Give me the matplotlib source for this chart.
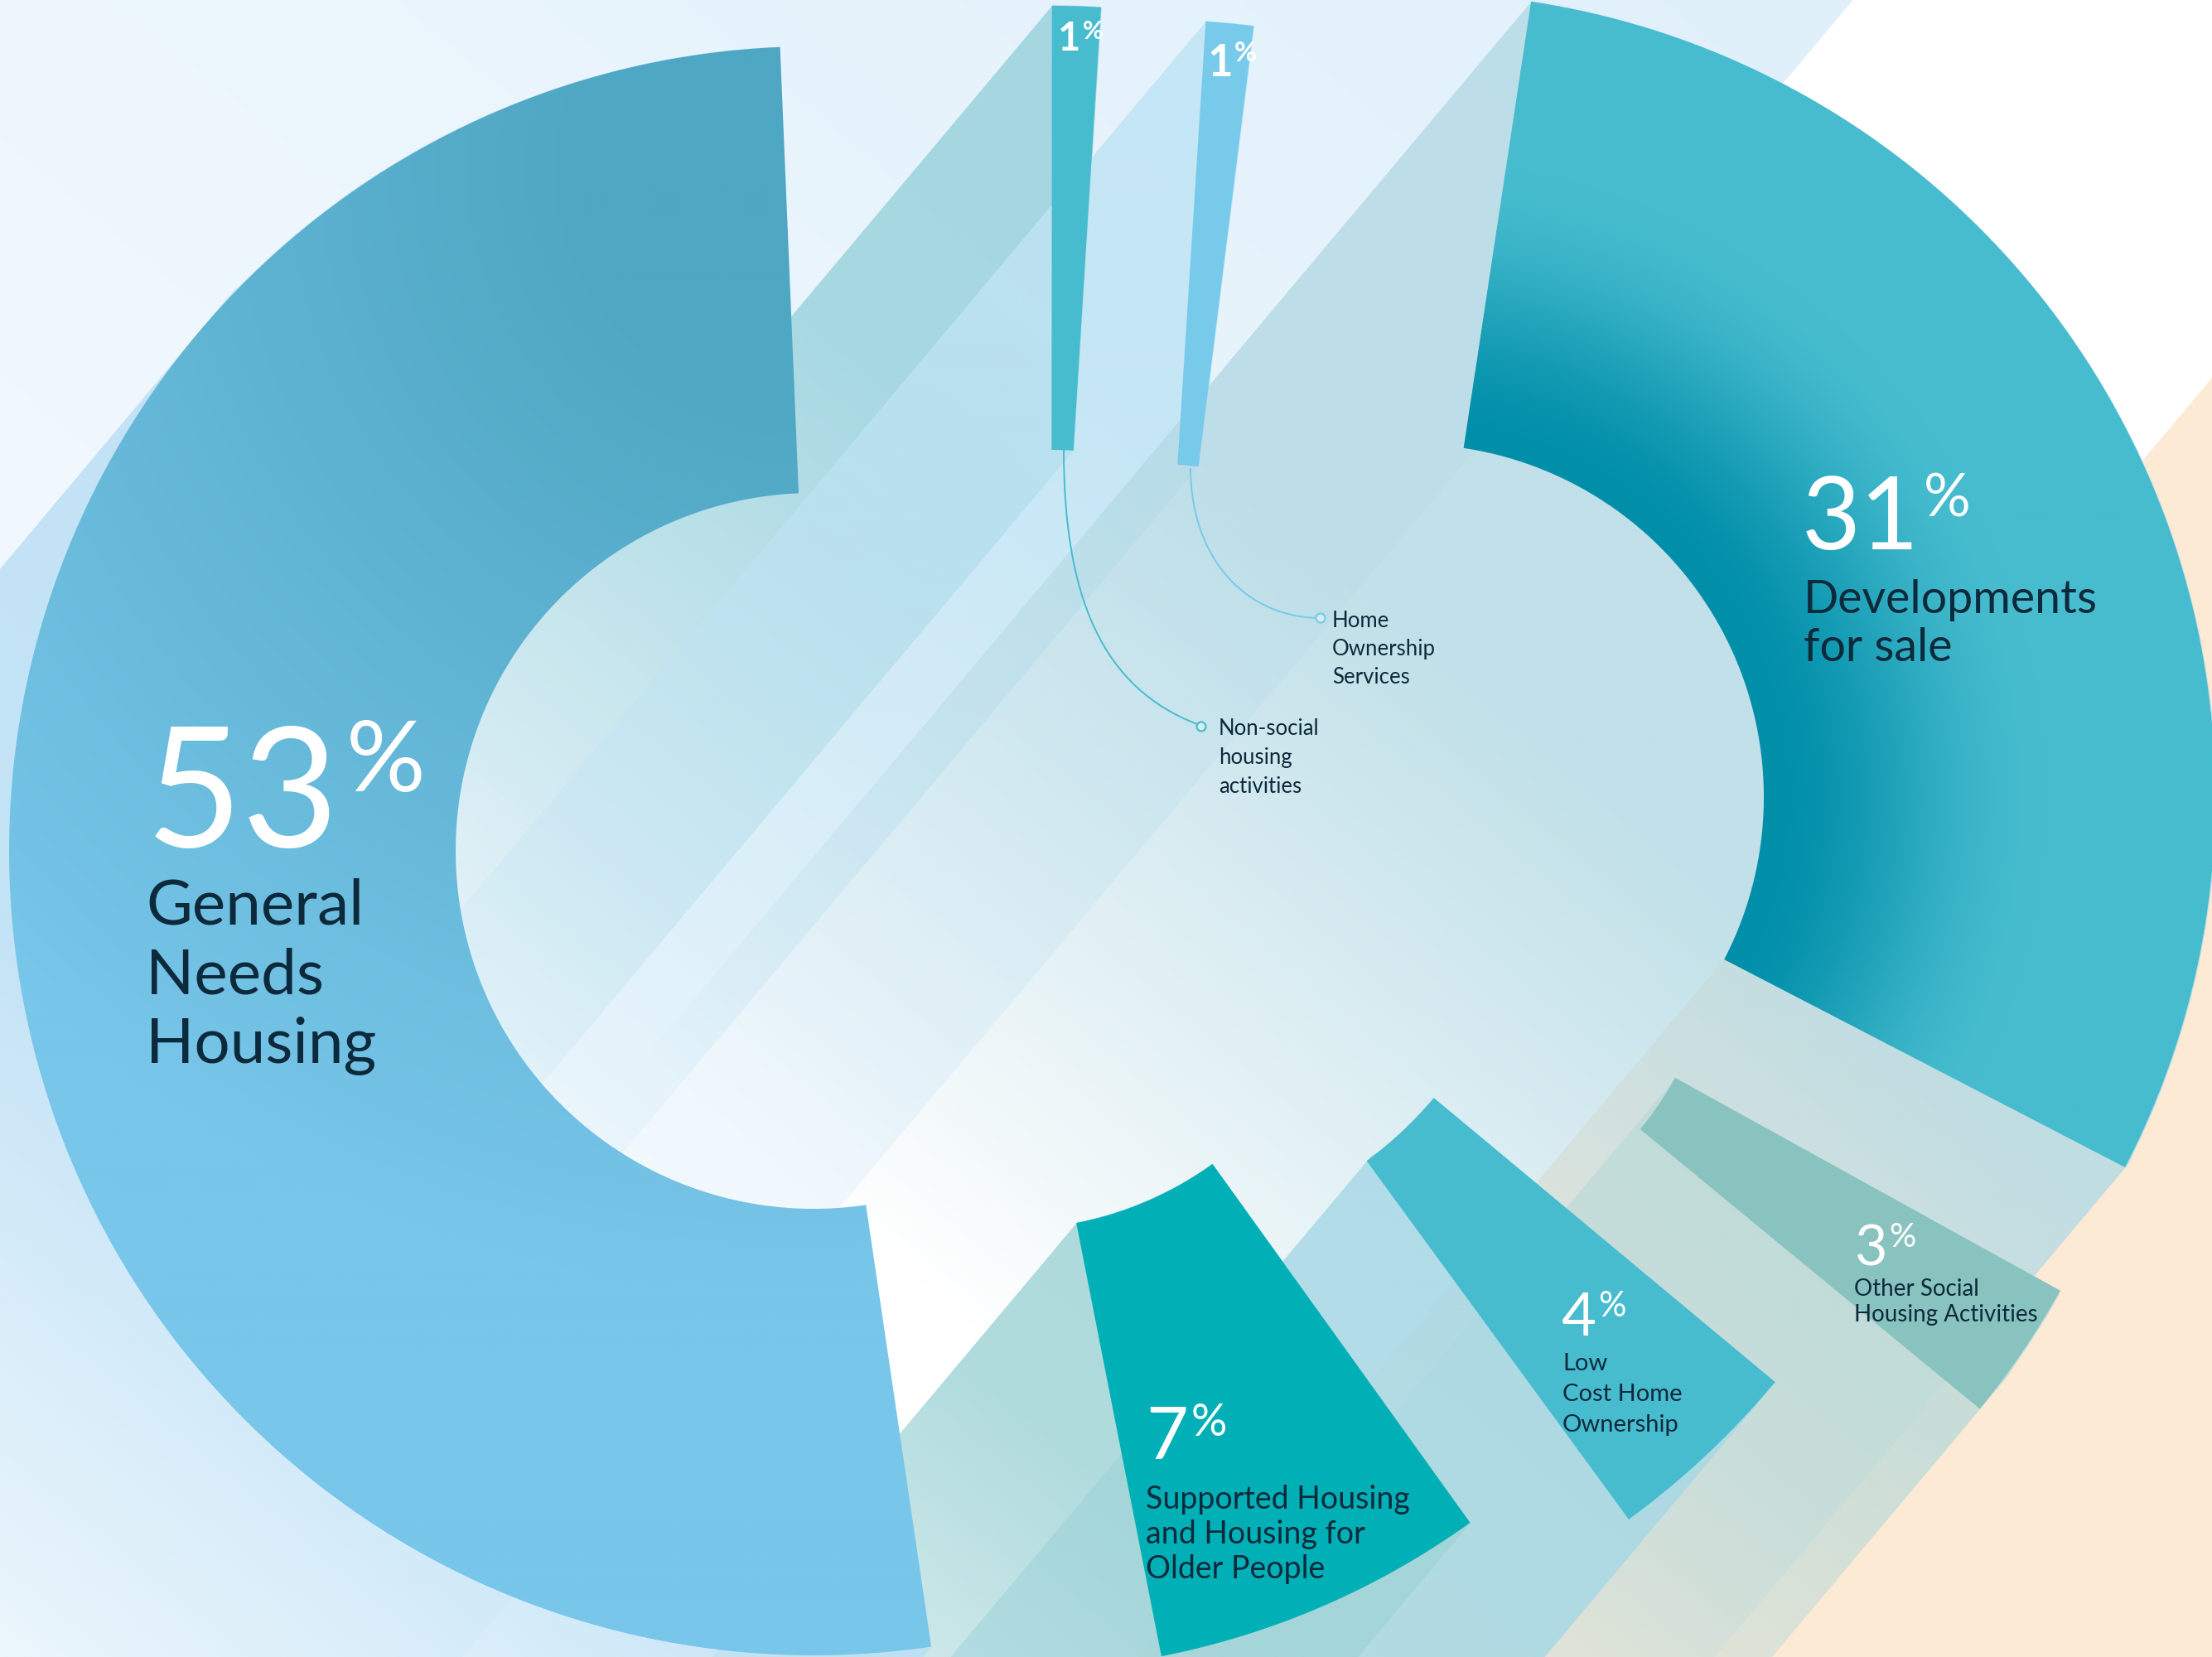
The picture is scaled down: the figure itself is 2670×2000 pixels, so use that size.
import numpy as np
import matplotlib.pyplot as plt
from matplotlib.patches import Polygon, PathPatch, Circle
from matplotlib.path import Path
from matplotlib.colors import to_rgb

plt.rcParams['font.family'] = ['Lato', 'DejaVu Sans']

W, H = 2670, 2000
D = np.array([-0.643, 0.766])   # direction every slice is extruded in (down-left)
N = np.array([0.766, 0.643])    # across the extrusion

# expenditure split, clockwise from 12 o'clock
names = ["Non-social\nhousing\nactivities",
         "Home\nOwnership\nServices",
         "Developments\nfor sale",
         "Other Social\nHousing Activities",
         "Low\nCost Home\nOwnership",
         "Supported Housing\nand Housing for\nOlder People",
         "General\nNeeds\nHousing"]
shares = [1, 1, 31, 3, 4, 7, 53]

seg_colors = ["#47bccf", "#78caea", "#47bccf", "#89c3bf", "#47bccf", "#00b0b6", "#6cbfe0"]
band_colors = ["#9bd3dd", "#bfe4f4", "#b6dbe5", "#bfdbd9", "#a8d9e6", "#a2d5d7", "#bbdff5"]
band_alpha = [0.85, 0.85, 0.85, 0.83, 0.85, 0.85, 0.85]
# position along the extrusion where each band is still solid / has faded out
band_solid = [-341, -511, -511, -170, 511, 511, 851]
band_gone = [715, 851, 477, 681, 1532, 1362, 1703]

# every slice sits on its own centre (px) with its own inner / outer radius
centres = [(1269, 974), (1395, 974), (1703, 962), (1664, 1103),
           (1381, 1034), (1218, 1063), (982, 1027)]
radii = [(431, 967), (414, 950), (426, 971), (409, 940),
         (455, 991), (421, 954), (432, 971)]
pad = 0.025
n_arc = 260

# label layout: number baseline, sizes, name block
num_pos = [(1277, 61), (1457, 92), (2175, 663), (2238, 1527),
           (1884, 1612), (1383, 1761), (176, 1022)]
num_size = [34, 38, 88, 49, 52, 63, 145]
pct_size = [22, 24, 51, 29, 30, 39, 86]
pct_rise = [14, 18, 40, 22, 23, 28, 67]
name_pos = [(1471, 887), (1608, 757), (2177, 740), (2238, 1564),
            (1886, 1654), (1383, 1821), (176, 1115)]
name_size = [18.5, 18.5, 40, 20, 21, 27, 55]
name_step = [35, 34, 58, 31, 37, 42, 84]
ink = "#0d2a3c"

fig = plt.figure(figsize=(W / 100, H / 100), dpi=100)
fig.patch.set_facecolor("white")
ax = fig.add_axes([0, 0, 1, 1])
ax.set_xlim(0, W)
ax.set_ylim(H, 0)
ax.axis("off")

GW, GH = 890, 667
gx, gy = np.meshgrid(np.linspace(0, W, GW), np.linspace(0, H, GH))
GU = gx * D[0] + gy * D[1]
GV = gx * N[0] + gy * N[1]


def to_xy(u, v):
    return np.c_[u * D[0] + v * N[0], u * D[1] + v * N[1]]


def gradient(t, c0, c1, alpha=None):
    c0, c1 = np.array(to_rgb(c0)), np.array(to_rgb(c1))
    t = np.clip(t, 0, 1)[..., None]
    rgb = c0 + (c1 - c0) * t
    a = np.ones(t.shape) if alpha is None else alpha[..., None]
    return np.concatenate([rgb, a], axis=-1)


def paint(img, clip, z):
    im = ax.imshow(img, extent=(0, W, H, 0), interpolation="bilinear", zorder=z)
    im.set_clip_path(Polygon(clip, closed=True, transform=ax.transData))


def slice_poly(i):
    mid = (edges[i] + edges[i + 1]) / 2
    half = (edges[i + 1] - edges[i]) / 2 * (1 - pad)
    t = np.radians(np.linspace(mid - half, mid + half, n_arc))
    cx, cy = centres[i]
    r0, r1 = radii[i]
    outer = np.c_[cx + r1 * np.sin(t), cy - r1 * np.cos(t)]
    inner = np.c_[cx + r0 * np.sin(t[::-1]), cy - r0 * np.cos(t[::-1])]
    return np.vstack([outer, inner])


def densify(poly, step=1.0, closed=True):
    pts = []
    ring = np.vstack([poly, poly[:1]]) if closed else poly
    for a, b in zip(ring[:-1], ring[1:]):
        k = max(int(np.hypot(*(b - a)) / step), 1)
        pts.append(a + (b - a) * np.linspace(0, 1, k, endpoint=False)[:, None])
    return np.vstack(pts)


def band_front(pts):
    u, v = pts @ D, pts @ N
    nb = max(int((v.max() - v.min()) / 2), 20)
    bins = np.linspace(v.min(), v.max(), nb + 1)
    idx = np.clip(np.digitize(v, bins) - 1, 0, nb - 1)
    umin = np.full(nb, np.inf)
    np.minimum.at(umin, idx, u)
    vc = (bins[:-1] + bins[1:]) / 2
    vc[0], vc[-1] = v.min(), v.max()
    ok = np.isfinite(umin)
    return vc[ok], umin[ok]


edges = np.cumsum([0] + shares) * 3.6

# background: pale sky, white stripe, sand
V_SKY, V_SAND = 1713, 2338
big = 6000
sky = to_xy(np.array([-big, big, big, -big]), np.array([-big, -big, V_SKY, V_SKY]))
paint(gradient((GU + 1400) / 2400, "#e0f0fb", "#f6fbfe"), sky, 0)
sand = to_xy(np.array([-big, big, big, -big]), np.array([V_SAND, V_SAND, big, big]))
ax.add_patch(Polygon(sand, closed=True, fc="#fcead5", ec="none", zorder=0.5))

polys = [slice_poly(i) for i in range(len(shares))]

# long fading extrusions behind the slices
for i in [6, 2, 5, 4, 3, 1, 0]:
    if shares[i] == max(shares):
        # the big ring only casts from its outer rim
        src = densify(polys[i][:n_arc], closed=False)
    else:
        src = densify(polys[i])
    fv, fu = band_front(src)
    band = np.vstack([to_xy(fu, fv),
                      to_xy(np.array([big, big]), np.array([fv[-1], fv[0]]))])
    a = band_alpha[i] * np.clip((band_gone[i] - GU) / (band_gone[i] - band_solid[i]), 0, 1)
    paint(gradient(np.zeros_like(GU), band_colors[i], band_colors[i], a), band, 1 + i * 0.01)

# the slices
for i, poly in enumerate(polys):
    if shares[i] == 53:
        r = np.hypot(gx - 954, gy - 204)
        paint(gradient((r - 250) / 1100, "#4ea7c3", "#78c6ea"), poly, 3)
    elif shares[i] == 31:
        cx, cy = centres[i]
        r = np.hypot(gx - cx, gy - cy)
        t = np.clip((r - radii[i][0]) / 340, 0, 1)
        paint(gradient(t * t * (3 - 2 * t), "#008ea9", "#47bccf"), poly, 3)
    else:
        ax.add_patch(Polygon(poly, closed=True, fc=seg_colors[i], ec="none", zorder=3))

# leader lines for the two 1% slices
leaders = [[(1284, 543), (1284, 720), (1330, 830), (1445, 874)],
           [(1437, 565), (1437, 665), (1495, 742), (1589, 746)]]
markers = [(1450, 877), (1594, 746)]
for i in (0, 1):
    path = Path(leaders[i], [Path.MOVETO, Path.CURVE4, Path.CURVE4, Path.CURVE4])
    ax.add_patch(PathPatch(path, fc="none", ec=seg_colors[i], lw=1.4, zorder=4))
    ax.add_patch(Circle(markers[i], 5.5, fc="#d8edf3", ec=seg_colors[i], lw=1.6, zorder=4.5))

# labels
fig.canvas.draw()
rend = fig.canvas.get_renderer()
inv = ax.transData.inverted()
for i, v in enumerate(shares):
    x, y = num_pos[i]
    bold = "bold" if v == 1 else "normal"
    t = ax.text(x, y, str(v), color="white", fontsize=num_size[i], fontweight=bold,
                ha="left", va="baseline", zorder=6)
    bb = t.get_window_extent(rend)
    xr = inv.transform((bb.x1, bb.y0))[0]
    ax.text(xr + num_size[i] * 0.06, y - pct_rise[i], "%", color="white",
            fontsize=pct_size[i], fontweight=bold, ha="left", va="baseline", zorder=6)
    nx, ny = name_pos[i]
    for k, line in enumerate(names[i].split("\n")):
        ax.text(nx, ny + k * name_step[i], line, color=ink, fontsize=name_size[i],
                ha="left", va="baseline", zorder=6)

fig.savefig("out.png", dpi=100, facecolor="white")
